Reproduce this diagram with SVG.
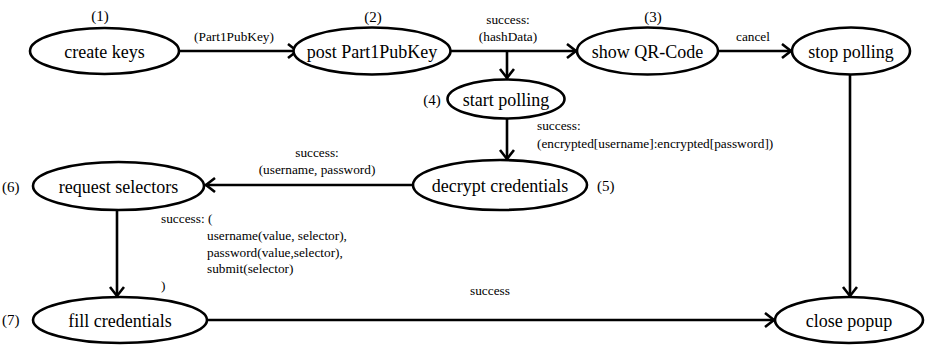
<svg xmlns="http://www.w3.org/2000/svg" width="926" height="345" viewBox="0 0 926 345" font-family="Liberation Serif, DejaVu Serif, serif">
<style>
text{font-family:'Liberation Serif','DejaVu Serif',serif;fill:#000}
.n ellipse{fill:#fff;stroke:#000;stroke-width:2.6}
.n text.t{font-size:18px;text-anchor:middle}
.n text.num{font-size:15px}
text.lbl{font-size:13.3px}
.c line{stroke:#000;stroke-width:2.6;fill:none;marker-end:url(#ah)}
</style>
<defs>
<marker id="ah" markerUnits="userSpaceOnUse" markerWidth="16" markerHeight="18" refX="12" refY="8" orient="auto">
<polyline points="2,1 11,8 2,15" fill="none" stroke="#000" stroke-width="2.6"/>
</marker>
</defs>
<rect width="926" height="345" fill="#fff"/>
<g id="connectors" class="c">
<line x1="179" y1="51" x2="298" y2="51"/>
<line x1="450" y1="51" x2="577" y2="51"/>
<line x1="507" y1="51" x2="507" y2="79"/>
<line x1="718" y1="51" x2="792" y2="51"/>
<line x1="507" y1="119" x2="507" y2="160"/>
<line x1="413" y1="185" x2="205" y2="185"/>
<line x1="117" y1="210" x2="117" y2="297"/>
<line x1="207" y1="320" x2="775" y2="320"/>
<line x1="850" y1="75" x2="850" y2="297"/>
</g>
<g id="edge-labels">
<text class="lbl" x="234" y="41" text-anchor="middle">(Part1PubKey)</text>
<text class="lbl" x="508" y="24" text-anchor="middle">success:</text>
<text class="lbl" x="508" y="41" text-anchor="middle">(hashData)</text>
<text class="lbl" x="753" y="41" text-anchor="middle">cancel</text>
<text class="lbl" x="537" y="130">success:</text>
<text class="lbl" x="537" y="148">(encrypted[username]:encrypted[password])</text>
<text class="lbl" x="317" y="157" text-anchor="middle">success:</text>
<text class="lbl" x="317" y="174" text-anchor="middle">(username, password)</text>
<text class="lbl" x="161" y="223">success: (</text>
<text class="lbl" x="207" y="240">username(value, selector),</text>
<text class="lbl" x="207" y="257">password(value,selector),</text>
<text class="lbl" x="207" y="273">submit(selector)</text>
<text class="lbl" x="161" y="290">)</text>
<text class="lbl" x="490" y="295" text-anchor="middle">success</text>
</g>
<g id="n1" class="n">
<ellipse cx="104.5" cy="51" rx="74.5" ry="23"/>
<text class="t" x="104.5" y="57.5">create keys</text>
<text class="num" x="100" y="21" text-anchor="middle">(1)</text>
</g>
<g id="n2" class="n">
<ellipse cx="372" cy="51" rx="78.5" ry="23.5"/>
<text class="t" x="372" y="57.5">post Part1PubKey</text>
<text class="num" x="373" y="22" text-anchor="middle">(2)</text>
</g>
<g id="n3" class="n">
<ellipse cx="647.5" cy="51" rx="70.5" ry="23.5"/>
<text class="t" x="647.5" y="57.5">show QR-Code</text>
<text class="num" x="653" y="22" text-anchor="middle">(3)</text>
</g>
<g id="n4" class="n">
<ellipse cx="851" cy="51" rx="59" ry="23.5"/>
<text class="t" x="851" y="57.5">stop polling</text>
</g>
<g id="n5" class="n">
<ellipse cx="506" cy="99" rx="58.5" ry="19.5"/>
<text class="t" x="506" y="105.5">start polling</text>
<text class="num" x="432" y="105" text-anchor="middle">(4)</text>
</g>
<g id="n6" class="n">
<ellipse cx="500" cy="185" rx="87" ry="25"/>
<text class="t" x="500" y="191.5">decrypt credentials</text>
<text class="num" x="597" y="191">(5)</text>
</g>
<g id="n7" class="n">
<ellipse cx="118.5" cy="186" rx="85.5" ry="24"/>
<text class="t" x="118.5" y="192.5">request selectors</text>
<text class="num" x="2" y="192">(6)</text>
</g>
<g id="n8" class="n">
<ellipse cx="120" cy="320" rx="87" ry="23"/>
<text class="t" x="120" y="326.5">fill credentials</text>
<text class="num" x="2" y="325">(7)</text>
</g>
<g id="n9" class="n">
<ellipse cx="849" cy="320" rx="74" ry="23"/>
<text class="t" x="849" y="326.5">close popup</text>
</g>
</svg>
